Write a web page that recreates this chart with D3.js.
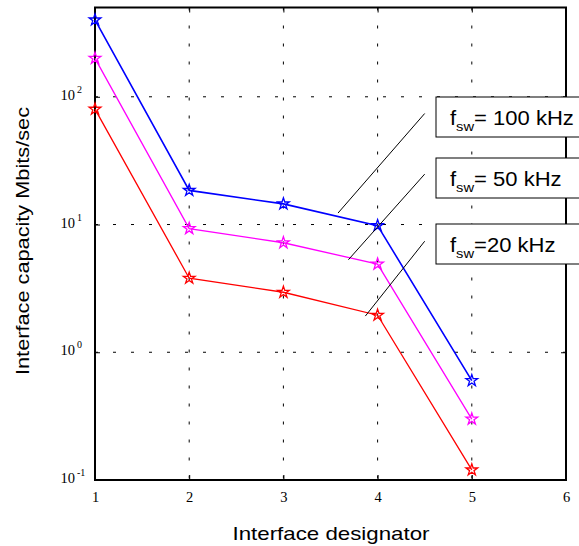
<!DOCTYPE html>
<html>
<head>
<meta charset="utf-8">
<script src="https://cdn.jsdelivr.net/npm/d3@7"></script>
<style>
  body { margin: 0; background: #fff; }
  svg { display: block; }
</style>
</head>
<body>
<script>
const width = 579;
const height = 546;
const m = {left: 95, right: 566, top: 7.5, bottom: 480};

// data
const designators = [1, 2, 3, 4, 5];
const cap100 = [400, 18.5, 14.5, 9.8, 0.6];
const cap50 = [200, 9.3, 7.2, 4.9, 0.3];
const cap20 = [80, 3.8, 2.95, 1.95, 0.12];
const xTicks = [1, 2, 3, 4, 5, 6];
const yTicks = [0.1, 1, 10, 100];
const legendLabels = ['= 100 kHz', '= 50 kHz', '=20 kHz'];
// pointer lines, [x1, y1, x2, y2] in data units
const pointers = [
  [3.58, 12.3, 4.5, 74],
  [3.69, 5.3, 4.5, 24.8],
  [3.87, 1.92, 4.5, 7.4]
];

const series = [
  {values: cap100, color: '#0000ff', w: 1.6},
  {values: cap50, color: '#ff00ff', w: 1.3},
  {values: cap20, color: '#ff0000', w: 1.3}
];

const x = d3.scaleLinear().domain([1, 6]).range([m.left, m.right]);
const y = d3.scaleLog().domain([0.1, 500]).range([m.bottom, m.top]);

const svg = d3.select('body').append('svg')
  .attr('width', width)
  .attr('height', height)
  .attr('viewBox', [0, 0, width, height]);

// grid
const grid = svg.append('g')
  .attr('stroke', '#000')
  .attr('stroke-width', 1)
  .attr('stroke-dasharray', '3,15');

grid.selectAll('.vg')
  .data(xTicks.slice(1, -1))
  .join('line')
    .attr('x1', d => x(d)).attr('x2', d => x(d))
    .attr('y1', m.top).attr('y2', m.bottom);

grid.selectAll('.hg')
  .data(yTicks.slice(1))
  .join('line')
    .attr('x1', m.left).attr('x2', m.right)
    .attr('y1', d => y(d)).attr('y2', d => y(d));

// axes (inward ticks, MATLAB style)
const serif = '"Liberation Serif", "Times New Roman", serif';

const xAxis = svg.append('g')
  .attr('transform', `translate(0,${m.bottom})`)
  .call(d3.axisBottom(x).tickValues(xTicks).tickSize(-5).tickPadding(12).tickFormat(d3.format('d')));
xAxis.select('.domain').remove();
xAxis.selectAll('text').attr('font-family', serif).attr('font-size', 14.5).attr('fill', '#000');

const xTop = svg.append('g')
  .attr('transform', `translate(0,${m.top})`)
  .call(d3.axisTop(x).tickValues(xTicks).tickSize(-5).tickFormat(''));
xTop.select('.domain').remove();

const yAxis = svg.append('g')
  .attr('transform', `translate(${m.left},0)`)
  .call(d3.axisLeft(y).tickValues(yTicks).tickSize(-5).tickFormat(''));
yAxis.select('.domain').remove();

const yRight = svg.append('g')
  .attr('transform', `translate(${m.right},0)`)
  .call(d3.axisRight(y).tickValues(yTicks).tickSize(-5).tickFormat(''));
yRight.select('.domain').remove();

// y tick labels as 10^n
const yLab = svg.append('g')
  .attr('font-family', serif)
  .attr('fill', '#000');
yLab.selectAll('text')
  .data(yTicks)
  .join('text')
    .attr('x', 75)
    .attr('y', d => y(d) + 3)
    .attr('text-anchor', 'end')
    .attr('font-size', 14.5)
    .text('10');
yLab.selectAll('.exp')
  .data(yTicks)
  .join('text')
    .attr('class', 'exp')
    .attr('x', 77)
    .attr('y', d => y(d) - 4)
    .attr('font-size', 10)
    .text(d => Math.round(Math.log10(d)));

// plot frame
svg.append('rect')
  .attr('x', m.left)
  .attr('y', m.top)
  .attr('width', m.right - m.left)
  .attr('height', m.bottom - m.top)
  .attr('fill', 'none')
  .attr('stroke', '#000')
  .attr('stroke-width', 2);

// series
const line = d3.line()
  .x((d, i) => x(designators[i]))
  .y(d => y(d));

const star = d3.symbol().type(d3.symbolStar).size(42);

series.forEach(s => {
  svg.append('path')
    .attr('d', line(s.values))
    .attr('fill', 'none')
    .attr('stroke', s.color)
    .attr('stroke-width', s.w);

  svg.append('g')
    .selectAll('path')
    .data(s.values)
    .join('path')
      .attr('transform', (d, i) => `translate(${x(designators[i])},${y(d)})`)
      .attr('d', star)
      .attr('fill', 'none')
      .attr('stroke', s.color)
      .attr('stroke-width', 1.3);
});

// pointer lines
svg.append('g')
  .selectAll('line')
  .data(pointers)
  .join('line')
    .attr('x1', d => x(d[0])).attr('y1', d => y(d[1]))
    .attr('x2', d => x(d[2])).attr('y2', d => y(d[3]))
    .attr('stroke', '#000')
    .attr('stroke-width', 1);

// legend boxes
const boxTops = [97, 158, 224];
const sans = '"Liberation Sans", Arial, sans-serif';

const boxes = svg.append('g')
  .selectAll('g')
  .data(legendLabels)
  .join('g')
    .attr('transform', (d, i) => `translate(436,${boxTops[i]})`);

boxes.append('rect')
  .attr('width', 160)
  .attr('height', 40)
  .attr('fill', '#fff')
  .attr('stroke', '#000')
  .attr('stroke-width', 1);

// the original text is a bit wider than Liberation Sans, stretch it
const lt = boxes.append('text')
  .attr('transform', 'translate(14,28) scale(1.13,1)')
  .attr('font-family', sans)
  .attr('font-size', 19.5)
  .attr('fill', '#000');
lt.append('tspan').text('f');
lt.append('tspan').attr('font-size', 13).attr('dy', 6).text('sw');
lt.append('tspan').attr('dy', -6).text(d => d);

// axis titles
svg.append('text')
  .attr('x', 331)
  .attr('y', 540)
  .attr('text-anchor', 'middle')
  .attr('font-family', sans)
  .attr('font-size', 19)
  .attr('textLength', 197)
  .attr('lengthAdjust', 'spacingAndGlyphs')
  .attr('fill', '#000')
  .text('Interface designator');

svg.append('text')
  .attr('transform', `translate(29,241) rotate(-90)`)
  .attr('text-anchor', 'middle')
  .attr('font-family', sans)
  .attr('font-size', 19)
  .attr('textLength', 268)
  .attr('lengthAdjust', 'spacingAndGlyphs')
  .attr('fill', '#000')
  .text('Interface capacity Mbits/sec');
</script>
</body>
</html>
